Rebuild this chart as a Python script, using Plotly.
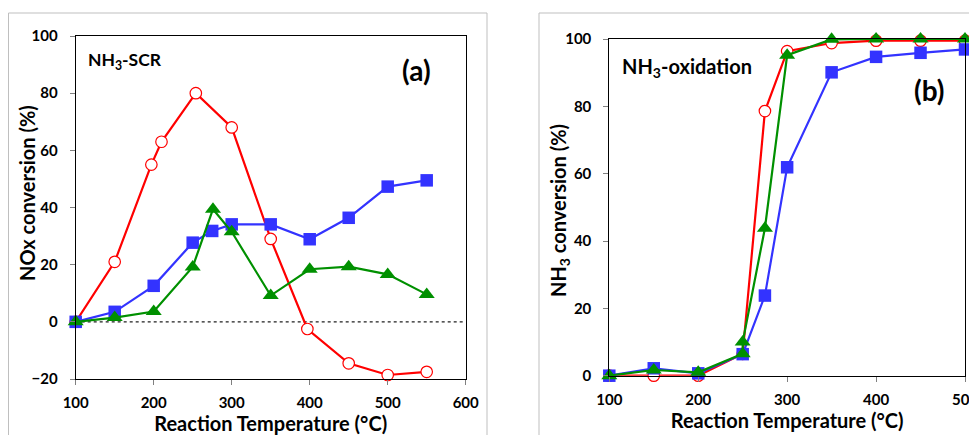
import plotly.graph_objects as go

# Panel (a): NH3-SCR, NOx conversion (%)
a_red_x = [100, 150, 197, 210, 254, 300, 350, 397, 450, 500, 550]
a_red_y = [0, 21, 55, 63, 80, 68, 29, -2.5, -14.5, -18.6, -17.5]
a_blue_x = [100, 150, 200, 250, 275, 300, 350, 400, 450, 500, 550]
a_blue_y = [0, 3.5, 12.6, 27.7, 31.8, 34.1, 34.1, 28.9, 36.4, 47.3, 49.5]
a_green_x = [100, 150, 200, 250, 276, 300, 350, 400, 450, 500, 550]
a_green_y = [0, 1.5, 3.6, 19.2, 39.4, 31.5, 9.2, 18.4, 19.3, 16.6, 9.6]

# Panel (b): NH3-oxidation, NH3 conversion (%)
b_red_x = [100, 150, 200, 250, 275, 300, 350, 400, 450, 500]
b_red_y = [0, 0, 0, 6.5, 78.6, 96.4, 98.8, 99.5, 99.5, 99.5]
b_blue_x = [100, 150, 200, 250, 275, 300, 350, 400, 450, 500]
b_blue_y = [0, 2.2, 0.7, 6.4, 23.8, 61.9, 90.1, 94.7, 95.9, 96.9]
b_green_x = [100, 150, 200, 250, 250, 275, 300, 350, 400, 450, 500]
b_green_y = [0, 1.7, 1.0, 6.5, 10, 43.8, 95.2, 99.9, 100, 100, 100]

a_xticks = [100, 200, 300, 400, 500, 600]
a_yticks = [-20, 0, 20, 40, 60, 80, 100]
b_xticks = [100, 200, 300, 400, 500]
b_yticks = [0, 20, 40, 60, 80, 100]

RED = "#FF0000"
BLUE = "#3333FF"
GREEN = "#009000"
FONT = "Lato"

fig = go.Figure()

def add_series(x, y, xa, ya, red=False, color=None, symbol=None, size=12):
    if red:
        fig.add_trace(go.Scatter(
            x=x, y=y, xaxis=xa, yaxis=ya, mode="lines+markers",
            line=dict(color=RED, width=2.2),
            marker=dict(symbol="circle", size=11.5, color="white",
                        line=dict(color=RED, width=1.2)),
            showlegend=False, cliponaxis=False))
    else:
        fig.add_trace(go.Scatter(
            x=x, y=y, xaxis=xa, yaxis=ya, mode="lines+markers",
            line=dict(color=color, width=2.2),
            marker=dict(symbol=symbol, size=size, color=color),
            showlegend=False, cliponaxis=False))

add_series(a_red_x, a_red_y, "x", "y", red=True)
add_series(a_blue_x, a_blue_y, "x", "y", color=BLUE, symbol="square", size=12.5)
add_series(a_green_x, a_green_y, "x", "y", color=GREEN, symbol="triangle-up", size=14)
add_series(b_red_x, b_red_y, "x2", "y2", red=True)
add_series(b_blue_x, b_blue_y, "x2", "y2", color=BLUE, symbol="square", size=12.5)
add_series(b_green_x, b_green_y, "x2", "y2", color=GREEN, symbol="triangle-up", size=14)

# page offset (body margin) compensation: figure pixel = screen pixel - 8
W, H = 969, 427
OFF = 8

def px(sx):
    return (sx - OFF) / W

def py(sy):
    return 1 - (sy - OFF) / H

ax_common = dict(showgrid=False, zeroline=False, showline=True, linecolor="black",
                 linewidth=1, mirror=True, ticks="outside", ticklen=5,
                 tickcolor="#808080", tickwidth=1, automargin=False,
                 ticklabeloverflow="allow",
                 tickfont=dict(family=FONT, size=15, color="black", weight="bold"))
title_font = dict(family=FONT, size=20, color="black", weight="bold")

fig.update_layout(
    width=W, height=H,
    margin=dict(l=0, r=0, t=0, b=0),
    paper_bgcolor="white", plot_bgcolor="white",
    font=dict(family=FONT, color="black"),
    xaxis=dict(ax_common, domain=[px(75.7), px(465.7)], range=[100, 600],
               tickvals=a_xticks, anchor="y", ticklabelstandoff=5,
               title=dict(text="Reaction Temperature (°C)", standoff=3, font=title_font)),
    yaxis=dict(ax_common, domain=[py(379), py(36)], range=[-20, 100],
               tickvals=a_yticks, anchor="x", ticklabelstandoff=9),
    xaxis2=dict(ax_common, domain=[px(609.3), px(965)], range=[100, 500],
                tickvals=b_xticks, anchor="y2", ticklabelstandoff=5,
                title=dict(text="Reaction Temperature (°C)", standoff=4, font=title_font)),
    yaxis2=dict(ax_common, domain=[py(375.7), py(39)], range=[0, 100],
                tickvals=b_yticks, anchor="x2", ticklabelstandoff=9),
)

# y-axis titles
fig.add_annotation(xref="paper", yref="paper", x=px(27), y=py(193),
                   xanchor="center", yanchor="middle", showarrow=False, textangle=-90,
                   text="NOx conversion (%)", font=title_font)
fig.add_annotation(xref="paper", yref="paper", x=px(559), y=py(211),
                   xanchor="center", yanchor="middle", showarrow=False, textangle=-90,
                   text="NH<sub>3</sub> conversion (%)", font=title_font)

# outer chart frames
fig.add_shape(type="rect", xref="paper", yref="paper",
              x0=0.5 / W, x1=px(487), y0=-0.05, y1=py(13),
              line=dict(color="#BFBFBF", width=1), layer="below")
fig.add_shape(type="rect", xref="paper", yref="paper",
              x0=px(539), x1=1.05, y0=-0.05, y1=py(13),
              line=dict(color="#BFBFBF", width=1), layer="below")

# zero reference line (panel a)
fig.add_shape(type="line", xref="x", yref="y", x0=100, x1=600, y0=0, y1=0,
              line=dict(color="#202020", width=1.2, dash="dot"), layer="below")

ann_font = dict(family=FONT, size=18, color="black", weight="bold")
fig.add_annotation(xref="paper", yref="paper", x=px(86), y=py(61),
                   xanchor="left", yanchor="middle", showarrow=False,
                   text="NH<sub>3</sub>-SCR", font=dict(ann_font, size=17.5))
fig.add_annotation(xref="paper", yref="paper", x=px(433), y=py(70),
                   xanchor="right", yanchor="middle", showarrow=False,
                   text="(a)", font=dict(ann_font, size=28))
fig.add_annotation(xref="paper", yref="paper", x=px(620), y=py(68),
                   xanchor="left", yanchor="middle", showarrow=False,
                   text="NH<sub>3</sub>-oxidation", font=dict(ann_font, size=20))
fig.add_annotation(xref="paper", yref="paper", x=px(946), y=py(90),
                   xanchor="right", yanchor="middle", showarrow=False,
                   text="(b)", font=dict(ann_font, size=28))

fig.write_html("out.html")
